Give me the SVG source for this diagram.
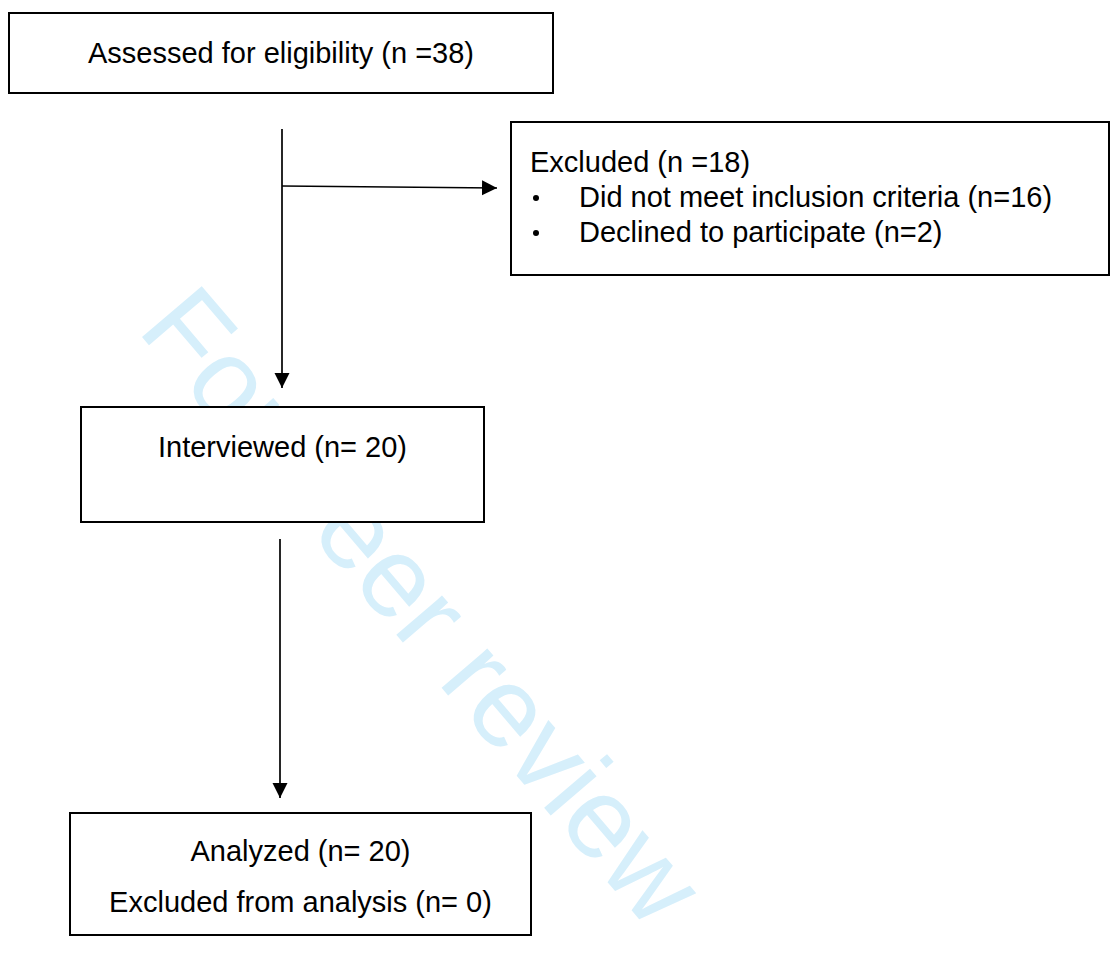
<svg xmlns="http://www.w3.org/2000/svg" width="1110" height="963" viewBox="0 0 1110 963">
<style>
.box{fill:#fff;stroke:#000;stroke-width:2}
.t{font-family:"Liberation Sans",Arial,sans-serif;font-size:29px;fill:#000}
.c{text-anchor:middle}
.ln{stroke:#000;stroke-width:1.7;fill:none}
.wm{font-family:"Liberation Sans",Arial,sans-serif;font-size:114px;fill:#d6effb}
</style>
<defs>
<marker id="ah" markerUnits="userSpaceOnUse" markerWidth="16" markerHeight="16" refX="15" refY="7.5" orient="auto">
<path d="M0,0 L15,7.5 L0,15 z" fill="#000"/>
</marker>
</defs>
<rect width="1110" height="963" fill="#fff"/>
<text class="wm" transform="translate(136,330) rotate(49.5)">For peer review</text>
<g id="connectors">
<line class="ln" x1="282" y1="129" x2="282" y2="388" marker-end="url(#ah)"/>
<line class="ln" x1="282" y1="186" x2="497" y2="188" marker-end="url(#ah)"/>
<line class="ln" x1="280" y1="539" x2="280" y2="798" marker-end="url(#ah)"/>
</g>
<g id="assessed">
<rect class="box" x="9" y="13" width="544" height="80"/>
<text class="t c" x="281" y="63">Assessed for eligibility (n =38)</text>
</g>
<g id="excluded">
<rect class="box" x="511" y="122" width="598" height="153"/>
<text class="t" x="530" y="172">Excluded (n =18)</text>
<circle cx="536" cy="198" r="3"/>
<text class="t" x="579" y="207">Did not meet inclusion criteria (n=16)</text>
<circle cx="536" cy="233" r="3"/>
<text class="t" x="579" y="242">Declined to participate (n=2)</text>
</g>
<g id="interviewed">
<rect class="box" x="81" y="407" width="403" height="115"/>
<text class="t c" x="282.5" y="457">Interviewed (n= 20)</text>
</g>
<g id="analyzed">
<rect class="box" x="70" y="813" width="461" height="122"/>
<text class="t c" x="300.5" y="861">Analyzed (n= 20)</text>
<text class="t c" x="300.5" y="912">Excluded from analysis (n= 0)</text>
</g>
</svg>
